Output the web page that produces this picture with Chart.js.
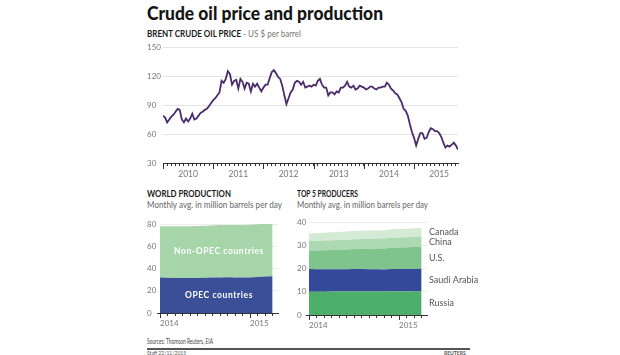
<!DOCTYPE html>
<html>
<head>
<meta charset="utf-8">
<script src="https://cdn.jsdelivr.net/npm/chart.js@4.4.1/dist/chart.umd.min.js"></script>
<style>
  body { margin: 0; width: 620px; height: 355px; background: #fff; position: relative; overflow: hidden; font-family: Lato, "Open Sans", sans-serif; }
  .t { position: absolute; white-space: nowrap; line-height: 1; transform-origin: left top; }
  canvas { position: absolute; }
</style>
</head>
<body>

<div class="t" id="title" style="left:147px;top:3px;font-size:19.5px;font-weight:900;color:#151515">Crude oil price and production</div>
<div class="t" id="sub1" style="left:147px;top:29px;font-size:9px;color:#777"><b style="color:#1a1a1a">BRENT CRUDE OIL PRICE</b> - US $ per barrel</div>
<canvas id="price" width="315" height="146" style="left:147px;top:39px"></canvas>

<div class="t" id="wpTitle" style="left:147px;top:189px;font-size:9px;font-weight:700;color:#1a1a1a">WORLD PRODUCTION</div>
<div class="t" id="wpSub" style="left:147px;top:200px;font-size:9px;color:#666">Monthly avg. in million barrels per day</div>
<canvas id="world" width="133" height="115" style="left:147px;top:218px"></canvas>

<div class="t" id="tpTitle" style="left:297px;top:189px;font-size:9px;font-weight:700;color:#1a1a1a">TOP 5 PRODUCERS</div>
<div class="t" id="tpSub" style="left:297px;top:200px;font-size:9px;color:#666">Monthly avg. in million barrels per day</div>
<canvas id="top5" width="182" height="119" style="left:297px;top:216px"></canvas>

<div class="t" id="src" style="left:147px;top:338px;font-size:7.5px;color:#444">Sources: Thomson Reuters, EIA</div>
<div style="position:absolute;left:147px;top:348px;width:323px;height:1.5px;background:#555"></div>
<div class="t" style="left:147px;top:351px;font-size:5px;color:#555">Staff 22/11/2015</div>
<div class="t" style="left:444px;top:351px;font-size:5px;font-weight:700;color:#555">REUTERS</div>

<script>
// -------- Data --------
// Brent, US $ per barrel, two readings a month (1st and 16th)
const price2010 = [79, 77, 72, 75, 78, 80, 83, 86, 85, 75, 72, 76, 73, 76, 81, 75, 76, 79, 82, 83, 85, 86, 89, 92];
const price2011 = [95, 97, 100, 103, 115, 113, 117, 125, 122, 111, 115, 116, 107, 117, 114, 107, 113, 112, 104, 112, 109, 112, 108, 104];
const price2012 = [108, 111, 111, 118, 124, 126, 123, 119, 117, 110, 100, 91, 97, 103, 106, 113, 115, 114, 111, 114, 108, 109, 110, 109];
const price2013 = [111, 110, 115, 117, 111, 108, 108, 100, 103, 103, 101, 104, 103, 108, 108, 110, 114, 109, 108, 110, 106, 107, 110, 109];
const price2014 = [108, 106, 107, 109, 109, 107, 106, 108, 108, 109, 109, 113, 111, 107, 105, 102, 101, 97, 93, 86, 84, 79, 70, 62];
const price2015 = [56, 48, 55, 61, 61, 55, 56, 62, 66, 65, 63, 63, 61, 57, 51, 46, 48, 47, 49, 51, 48, 44];
const priceYears = [2010, 2011, 2012, 2013, 2014, 2015];
const priceTicks = [30, 60, 90, 120, 150];

// Production, million barrels per day, Jan 2014 - Apr 2015
const productionYears = [2014, 2015];
const opec    = [31.8, 31.6, 31.5, 31.4, 31.4, 31.5, 31.6, 31.8, 32.0, 32.1, 31.9, 31.8, 32.0, 32.4, 32.8, 33.1];
const nonOpec = [46.2, 46.3, 46.5, 46.6, 46.6, 46.7, 46.8, 46.9, 47.0, 47.1, 47.3, 47.4, 47.4, 47.3, 47.4, 47.4];
const worldTicks = [0, 20, 40, 60, 80];

const russia = [10.0, 10.0, 10.0, 10.1, 10.1, 10.1, 10.1, 10.1, 10.1, 10.1, 10.1, 10.2, 10.2, 10.2, 10.1, 10.1];
const saudi  = [9.8, 9.7, 9.7, 9.6, 9.6, 9.6, 9.7, 9.7, 9.6, 9.6, 9.5, 9.6, 9.6, 9.6, 9.7, 9.8];
const us     = [7.9, 8.0, 8.1, 8.3, 8.4, 8.5, 8.6, 8.7, 8.8, 8.9, 9.0, 9.1, 9.2, 9.3, 9.4, 9.5];
const china  = [4.2, 4.2, 4.2, 4.2, 4.2, 4.2, 4.2, 4.2, 4.3, 4.3, 4.3, 4.3, 4.3, 4.3, 4.3, 4.3];
const canada = [3.3, 3.3, 3.4, 3.4, 3.4, 3.5, 3.5, 3.5, 3.6, 3.6, 3.6, 3.7, 3.7, 3.7, 3.8, 3.8];
const top5Ticks = [0, 10, 20, 30, 40];


// -------- Helpers --------
const tickFont = { family: 'Lato', size: 8 };
const tickGrey = '#777';

function monthPoints(values, startYear) {
    return values.map((v, i) => ({ x: startYear + i / 12, y: v }));
}

function monthTicks(from, to) {
    const out = [];
    for (let m = 0; from + m / 12 <= to + 1e-6; m++) out.push({ value: from + m / 12 });
    return out;
}

function monthOf(v) {
    return ((Math.round(v * 12) % 12) + 12) % 12;
}

// longer tick marks at the start of each year
const yearTicks = {
    id: 'yearTicks',
    afterDraw(chart, args, opts) {
        if (!opts.years) return;
        const x = chart.scales.x;
        const ctx = chart.ctx;
        ctx.save();
        ctx.strokeStyle = '#333';
        ctx.lineWidth = 1;
        opts.years.forEach(yr => {
            const px = Math.round(x.getPixelForValue(yr)) + 0.5;
            ctx.beginPath();
            ctx.moveTo(px, x.top);
            ctx.lineTo(px, x.top + opts.len);
            ctx.stroke();
        });
        ctx.restore();
    }
};

// names written inside / beside the stacked bands
const bandLabels = {
    id: 'bandLabels',
    afterDatasetsDraw(chart, args, opts) {
        if (!opts.names) return;
        const ctx = chart.ctx;
        const y = chart.scales.y;
        const area = chart.chartArea;
        const sets = chart.data.datasets;
        ctx.save();
        ctx.font = opts.font;
        ctx.fillStyle = opts.color;
        ctx.textBaseline = 'middle';
        ctx.textAlign = opts.inside ? 'center' : 'left';
        if (opts.spacing) ctx.letterSpacing = opts.spacing;
        sets.forEach((ds, i) => {
            const idx = opts.inside ? Math.floor(ds.data.length / 2) : ds.data.length - 1;
            let base = 0;
            for (let k = 0; k < i; k++) base += sets[k].data[idx].y;
            const mid = base + ds.data[idx].y / 2;
            const px = opts.inside ? (area.left + area.right) / 2 : area.right + 2;
            ctx.fillText(opts.names[i], px, y.getPixelForValue(mid));
        });
        ctx.restore();
    }
};

Chart.register(yearTicks, bandLabels);


// -------- Brent price --------
const pricePoints = [];
[price2010, price2011, price2012, price2013, price2014, price2015].forEach((arr, k) => {
    arr.forEach((v, i) => pricePoints.push({ x: priceYears[k] + i / 24, y: v }));
});
const priceEnd = pricePoints[pricePoints.length - 1].x;

new Chart(document.getElementById('price'), {
    type: 'line',
    data: {
        datasets: [{
            data: pricePoints,
            borderColor: '#4a2b6b',
            borderWidth: 1.8,
            pointRadius: 0,
            tension: 0,
            fill: false
        }]
    },
    options: {
        responsive: false,
        animation: false,
        layout: { padding: { top: 8, right: 4, left: 0, bottom: 0 } },
        plugins: {
            legend: { display: false },
            tooltip: { enabled: false },
            yearTicks: { years: priceYears, len: 6 }
        },
        scales: {
            x: {
                type: 'linear',
                min: priceYears[0],
                max: priceEnd,
                afterBuildTicks: s => { s.ticks = monthTicks(priceYears[0], priceEnd); },
                afterFit: s => { s.height = 22; },
                grid: { drawOnChartArea: false, drawTicks: true, tickLength: 3, tickColor: '#333' },
                border: { display: true, color: '#333', width: 1 },
                ticks: {
                    autoSkip: false, maxRotation: 0, padding: 3,
                    color: tickGrey, font: { family: 'Lato', size: 8.5 },
                    callback: v => monthOf(v) === 6 ? String(Math.floor(v)) : ''
                }
            },
            y: {
                min: 30, max: 150,
                afterBuildTicks: s => { s.ticks = priceTicks.map(v => ({ value: v })); },
                afterFit: s => { s.width = 16; },
                grid: { color: '#e4e4e4', drawTicks: false },
                border: { display: false },
                ticks: { crossAlign: 'far', padding: 0, color: tickGrey, font: tickFont }
            }
        }
    }
});


// -------- Stacked production charts --------
function stackedChart(id, datasets, ticks, yMax, yWidth, padRight, labelOpts) {
    const xMax = productionYears[0] + 1.31;
    return new Chart(document.getElementById(id), {
        type: 'line',
        data: { datasets },
        options: {
            responsive: false,
            animation: false,
            layout: { padding: { top: 6, right: padRight, left: 0, bottom: 0 } },
            elements: { line: { borderWidth: 0, tension: 0 }, point: { radius: 0 } },
            plugins: {
                legend: { display: false },
                tooltip: { enabled: false },
                yearTicks: { years: productionYears, len: 5 },
                bandLabels: labelOpts
            },
            scales: {
                x: {
                    type: 'linear',
                    min: productionYears[0],
                    max: xMax,
                    afterBuildTicks: s => { s.ticks = monthTicks(productionYears[0], xMax); },
                    afterFit: s => { s.height = 20; },
                    grid: { drawOnChartArea: false, drawTicks: true, tickLength: 3, tickColor: '#333' },
                    border: { display: true, color: '#333', width: 1 },
                    ticks: {
                        autoSkip: false, maxRotation: 0, padding: 3, align: 'start',
                        color: tickGrey, font: { family: 'Lato', size: 8 },
                        callback: v => monthOf(v) === 0 ? String(Math.round(v)) : ''
                    }
                },
                y: {
                    stacked: true,
                    min: 0, max: yMax,
                    afterBuildTicks: s => { s.ticks = ticks.map(v => ({ value: v })); },
                    afterFit: s => { s.width = yWidth; },
                    grid: {
                        color: '#ececec', drawTicks: true, tickLength: 3,
                        tickColor: c => c.tick && c.tick.value === 0 ? '#333' : 'rgba(0,0,0,0)'
                    },
                    border: { display: false },
                    ticks: { crossAlign: 'far', padding: 0, color: tickGrey, font: tickFont }
                }
            }
        }
    });
}

function band(values, color, first) {
    return {
        data: monthPoints(values, productionYears[0]),
        backgroundColor: color,
        borderColor: color,
        fill: first ? 'origin' : '-1'
    };
}

stackedChart('world', [
    band(opec, '#3b4f98', true),
    band(nonOpec, '#a6d5a9', false)
], worldTicks, 80, 13, 2, {
    names: ['OPEC countries', 'Non-OPEC countries'],
    inside: true,
    font: 'bold 8.5px Lato',
    color: '#ffffff',
    spacing: '0.6px'
});

stackedChart('top5', [
    band(russia, '#4daf69', true),
    band(saudi, '#34499a', false),
    band(us, '#7fc48c', false),
    band(china, '#acd9b1', false),
    band(canada, '#d3ebd5', false)
], top5Ticks, 40, 12, 52, {
    names: ['Russia', 'Saudi Arabia', 'U.S.', 'China', 'Canada'],
    inside: false,
    font: '9px Lato',
    color: '#555'
});


// -------- Text widths --------
function fit(id, w) {
    const el = document.getElementById(id);
    const r = w / el.getBoundingClientRect().width;
    el.style.transform = 'scaleX(' + r.toFixed(3) + ')';
}
fit('title', 236);
fit('sub1', 154);
fit('wpTitle', 84);
fit('wpSub', 135);
fit('tpTitle', 61);
fit('tpSub', 131);
fit('src', 66);
</script>
</body>
</html>
